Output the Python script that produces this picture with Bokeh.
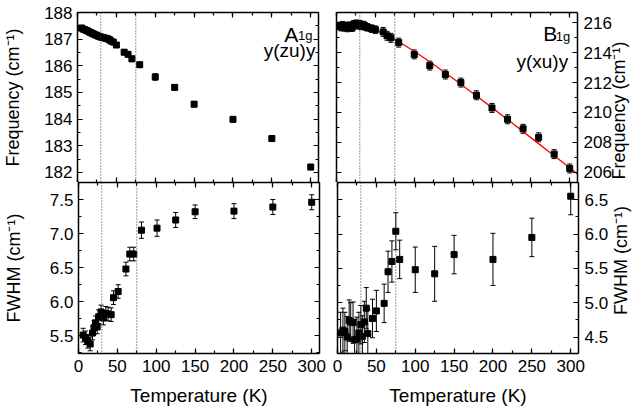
import math
from bokeh.plotting import figure
from bokeh.core.properties import value
from bokeh.models import (ColumnDataSource, Whisker, TeeHead, Span, LinearAxis,
                          SingleIntervalTicker, FixedTicker, Range1d, NumeralTickFormatter,
                          CustomJSTickFormatter)
from bokeh.layouts import row, column
from bokeh.embed import file_html
from bokeh.resources import INLINE

# ---------------- data ----------------
# A1g, y(zu)y : frequency
a_freq_T = [5, 7, 9, 11, 13, 15, 17, 19, 21, 23, 25, 27, 29, 31, 33, 35, 37, 39, 41, 43, 46, 50,
            60, 65, 70, 80, 100, 125, 150, 200, 250, 300]
a_freq = [187.42, 187.38, 187.36, 187.33, 187.31, 187.27, 187.25, 187.21, 187.19, 187.16, 187.14,
          187.11, 187.09, 187.07, 187.06, 187.04, 187.03, 187.01, 186.98, 186.93, 186.89, 186.78,
          186.51, 186.43, 186.26, 186.04, 185.58, 185.19, 184.56, 183.99, 183.27, 182.20]
a_freq_err = [0.06] * 22 + [0.1, 0.1, 0.1, 0.1, 0.12, 0.1, 0.1, 0.1, 0.1, 0.1]

# A1g : FWHM
a_fwhm_T = [6, 9, 12, 15, 18, 20, 22, 24, 26, 29, 32, 35, 38, 42, 45, 51,
            61, 66, 71, 81, 101, 125, 150, 200, 250, 300]
a_fwhm = [5.51, 5.47, 5.42, 5.38, 5.54, 5.62, 5.69, 5.63, 5.78, 5.85, 5.76, 5.83, 5.82, 5.81,
          6.06, 6.15, 6.48, 6.70, 6.70, 7.05, 7.08, 7.20, 7.32, 7.33, 7.39, 7.46]
a_fwhm_err = [0.1] * 16 + [0.1, 0.1, 0.1, 0.12, 0.12, 0.11, 0.1, 0.11, 0.11, 0.11]

# B1g, y(xu)y : frequency
b_freq_T = [4, 6, 8, 10, 12, 14, 16, 18, 20, 22, 25, 27, 30, 32, 35, 37, 40, 45, 50,
            60, 65, 70, 80, 100, 120, 140, 160, 180, 200, 220, 240, 260, 280, 300]
b_freq = [215.80, 215.72, 215.85, 215.70, 215.78, 215.66, 215.82, 215.74, 215.68, 215.90,
          215.95, 215.84, 215.92, 215.80, 215.86, 215.76, 215.70, 215.62, 215.55,
          215.40, 215.14, 215.00, 214.68, 213.89, 213.14, 212.54, 212.00, 211.15, 210.30,
          209.54, 208.90, 208.33, 207.20, 206.24]
b_freq_err = [0.25] * 19 + [0.3] * 15

# B1g : fitted curve (red line)
b_fit_T = [0, 25, 50, 75, 100, 125, 150, 175, 200, 225, 250, 275, 300, 310]
b_fit = [215.85, 215.84, 215.54, 214.91, 214.10, 213.21, 212.27, 211.30, 210.32, 209.32,
         208.31, 207.29, 206.29, 205.87]

# B1g : FWHM
b_fwhm_T = [4, 7, 9.5, 12.5, 15, 17, 20, 22, 25, 27.5, 30, 32, 34.5, 37, 39, 45, 50,
            60, 65, 70, 75, 80, 100, 125, 150, 200, 250, 300]
b_fwhm = [4.56, 4.60, 4.58, 4.50, 4.74, 4.72, 4.71, 4.46, 4.47, 4.56, 4.68, 4.51, 4.72, 4.92,
          4.55, 4.77, 4.88, 4.99, 5.45, 5.60, 6.04, 5.63, 5.48, 5.42, 5.70, 5.63, 5.95, 6.55]
b_fwhm_err = [0.3, 0.32, 0.28, 0.3, 0.3, 0.28, 0.3, 0.3, 0.32, 0.3, 0.28, 0.3, 0.3, 0.3, 0.35,
              0.28, 0.3, 0.28, 0.3, 0.3, 0.27, 0.28, 0.33, 0.4, 0.28, 0.38, 0.28, 0.27]

marker_T = [30, 75]  # dotted vertical lines

x_label = "Temperature (K)"
freq_label = "Frequency (cm\u207b\u00b9)"
fwhm_label = "FWHM (cm\u207b\u00b9)"

# panel annotations: symmetry label (main letter + subscript) and scattering geometry
a_sym, a_sub, a_geom = "A", "1g", "y(zu)y"
b_sym, b_sub, b_geom = "B", "1g", "y(xu)y"

# ---------------- styling ----------------
FONT = "Liberation Sans"
TICK_FS = "17px"
XLABEL_FS = "19px"
YLABEL_FS = "18px"
FW, FH_TOP, FH_BOT = 241, 170, 171


def add_axis(p, side, interval, labels=False, fmt="0", label=None,
             label_standoff=5, tick_standoff=5, label_fs=XLABEL_FS):
    ax = LinearAxis(ticker=SingleIntervalTicker(interval=interval, num_minor_ticks=2))
    ax.axis_line_width = 1.5
    ax.axis_line_color = "black"
    ax.major_tick_in = 5
    ax.major_tick_out = 0
    ax.minor_tick_in = 3
    ax.minor_tick_out = 0
    ax.major_tick_line_width = 1.2
    ax.minor_tick_line_width = 1.2
    ax.major_tick_line_color = "black"
    ax.minor_tick_line_color = "black"
    if labels:
        ax.formatter = NumeralTickFormatter(format=fmt)
        ax.major_label_text_font = FONT
        ax.major_label_text_font_size = TICK_FS
        ax.major_label_text_color = "black"
        ax.major_label_standoff = tick_standoff
    else:
        ax.major_label_text_font_size = "0px"
        ax.major_label_text_color = None
        ax.major_label_standoff = 0
    if label:
        ax.axis_label = label
        ax.axis_label_text_font = FONT
        ax.axis_label_text_font_size = label_fs
        ax.axis_label_text_font_style = "normal"
        ax.axis_label_text_color = "black"
        ax.axis_label_standoff = label_standoff
    p.add_layout(ax, side)
    return ax


def right_title(p, yr, text, standoff):
    # label-only axis on the right; its single tick label is the title, read bottom to top
    ax = LinearAxis(ticker=FixedTicker(ticks=[sum(yr) / 2]),
                    formatter=CustomJSTickFormatter(code="return %r;" % text))
    ax.axis_line_color = None
    ax.major_tick_in = 0
    ax.major_tick_out = 0
    ax.minor_tick_in = 0
    ax.minor_tick_out = 0
    ax.major_tick_line_color = None
    ax.minor_tick_line_color = None
    ax.major_label_orientation = math.pi / 2
    ax.major_label_text_font = FONT
    ax.major_label_text_font_size = YLABEL_FS
    ax.major_label_text_color = "black"
    ax.major_label_standoff = standoff
    p.add_layout(ax, "right")


def make_fig(yr, fh, borders):
    p = figure(frame_width=FW, frame_height=fh, x_range=Range1d(0, 310), y_range=Range1d(*yr),
               output_backend="svg", toolbar_location=None,
               x_axis_location=None, y_axis_location=None,
               min_border_left=borders[0], min_border_right=borders[1],
               min_border_top=borders[2], min_border_bottom=borders[3])
    p.outline_line_color = None
    p.background_fill_color = "white"
    p.border_fill_color = "white"
    for g in p.grid:
        g.visible = False
    for t in marker_T:
        p.add_layout(Span(location=t, dimension="height", line_color="#333333",
                          line_dash="1 2", line_width=1))
    return p


def add_points(p, xs, ys, errs):
    src = ColumnDataSource(dict(x=xs, y=ys,
                                upper=[y + e for y, e in zip(ys, errs)],
                                lower=[y - e for y, e in zip(ys, errs)]))
    w = Whisker(source=src, base="x", upper="upper", lower="lower", dimension="height",
                line_color="black", line_width=1,
                upper_head=TeeHead(size=5, line_width=1, line_color="black"),
                lower_head=TeeHead(size=5, line_width=1, line_color="black"))
    p.add_layout(w)
    p.scatter("x", "y", source=src, marker="square", size=6, color="black")


def annotate(p, pos_sym, pos_sub, pos_geom, sym, sub, geom):
    p.text(x=[pos_sym[0]], y=[pos_sym[1]], text=[sym], text_font=value(FONT),
           text_font_size=value("21px"), text_baseline="alphabetic", text_align="left",
           text_color="black")
    p.text(x=[pos_sub[0]], y=[pos_sub[1]], text=[sub], text_font=value(FONT),
           text_font_size=value("13px"), text_baseline="alphabetic", text_align="left",
           text_color="black")
    p.text(x=[pos_geom[0]], y=[pos_geom[1]], text=[geom], text_font=value(FONT),
           text_font_size=value("19px"), text_baseline="alphabetic", text_align="right",
           text_color="black")


# ---- top-left: A1g frequency ----
TL_Y = (181.62, 188.0)
tl = make_fig(TL_Y, FH_TOP, (76, 8, 12, 0))
add_axis(tl, "left", 1, labels=True, fmt="0", label=freq_label, label_standoff=18,
         label_fs=YLABEL_FS)
add_axis(tl, "right", 1)
add_axis(tl, "above", 50)
add_axis(tl, "below", 50)
add_points(tl, a_freq_T, a_freq, a_freq_err)
annotate(tl, (266, 187.19), (283.6, 187.12), (306, 186.59), a_sym, a_sub, a_geom)

# ---- top-right: B1g frequency ----
TR_Y = (205.3, 216.7)
tr = make_fig(TR_Y, FH_TOP, (10, 66, 12, 0))
add_axis(tr, "left", 2)
add_axis(tr, "right", 2, labels=True, fmt="0", tick_standoff=6)
right_title(tr, TR_Y, freq_label, 5)
add_axis(tr, "above", 50)
add_axis(tr, "below", 50)
tr.line(b_fit_T, b_fit, line_color="red", line_width=1.3)
add_points(tr, b_freq_T, b_freq, b_freq_err)
annotate(tr, (266, 215.27), (282, 215.12), (298, 213.41), b_sym, b_sub, b_geom)

# ---- bottom-left: A1g FWHM ----
BL_Y = (5.24, 7.75)
bl = make_fig(BL_Y, FH_BOT, (76, 8, 0, 62))
add_axis(bl, "left", 0.5, labels=True, fmt="0.0", label=fwhm_label, label_standoff=23,
         label_fs=YLABEL_FS)
add_axis(bl, "right", 0.5)
add_axis(bl, "above", 50)
add_axis(bl, "below", 50, labels=True, fmt="0", label=x_label, label_standoff=10, tick_standoff=6)
add_points(bl, a_fwhm_T, a_fwhm, a_fwhm_err)

# ---- bottom-right: B1g FWHM ----
BR_Y = (4.26, 6.75)
br = make_fig(BR_Y, FH_BOT, (10, 66, 0, 62))
add_axis(br, "left", 0.5)
add_axis(br, "right", 0.5, labels=True, fmt="0.0", tick_standoff=6)
right_title(br, BR_Y, fwhm_label, 10)
add_axis(br, "above", 50)
add_axis(br, "below", 50, labels=True, fmt="0", label=x_label, label_standoff=10, tick_standoff=6)
add_points(br, b_fwhm_T, b_fwhm, b_fwhm_err)

layout = column(row(tl, tr, spacing=0), row(bl, br, spacing=0), spacing=0)
open("out.html", "w").write(file_html(layout, INLINE))
